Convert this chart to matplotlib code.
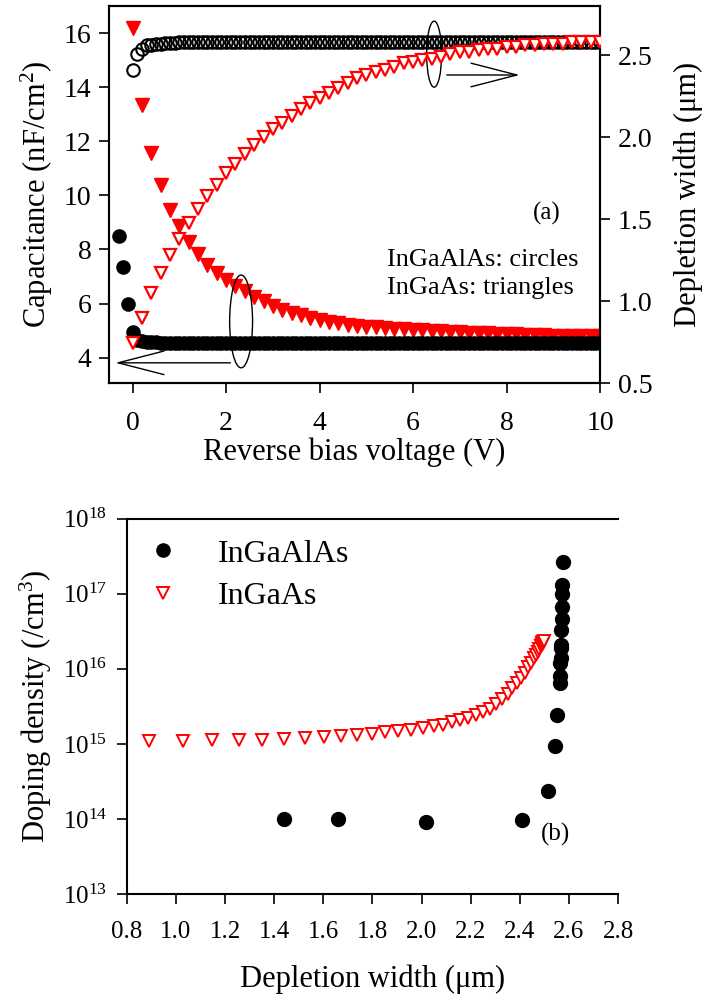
import numpy as np
import matplotlib
matplotlib.use("Agg")
import matplotlib.pyplot as plt
from matplotlib.patches import Ellipse
from matplotlib.ticker import FixedLocator, NullLocator, LogFormatterSciNotation

plt.rcParams['font.family'] = ['Liberation Serif', 'DejaVu Serif']
plt.rcParams['mathtext.fontset'] = 'custom'
plt.rcParams['mathtext.rm'] = 'Liberation Serif'
plt.rcParams['mathtext.it'] = 'Liberation Serif:italic'
plt.rcParams['mathtext.bf'] = 'Liberation Serif:bold'

# ---- panel (a) data ----
# InGaAlAs, voltage step 0.1 V
v_al_c = np.round(np.linspace(-0.3, 10.0, 104), 1)
cap_al = [8.48, 7.37, 5.99, 4.94, 4.66, 4.60, 4.58, 4.57, 4.57, 4.56,
          4.56, 4.56, 4.56, 4.56, 4.56, 4.56, 4.56, 4.56, 4.56, 4.56,
          4.56, 4.56, 4.56, 4.56, 4.56, 4.56, 4.56, 4.56, 4.56, 4.56,
          4.56, 4.56, 4.56, 4.56, 4.56, 4.56, 4.56, 4.56, 4.56, 4.56,
          4.56, 4.56, 4.56, 4.56, 4.56, 4.56, 4.56, 4.56, 4.56, 4.56,
          4.55, 4.55, 4.55, 4.55, 4.55, 4.55, 4.55, 4.55, 4.55, 4.55,
          4.55, 4.55, 4.55, 4.55, 4.55, 4.55, 4.55, 4.55, 4.55, 4.55,
          4.55, 4.55, 4.55, 4.55, 4.55, 4.55, 4.55, 4.55, 4.55, 4.55,
          4.55, 4.55, 4.55, 4.55, 4.55, 4.55, 4.55, 4.55, 4.55, 4.55,
          4.55, 4.55, 4.55, 4.55, 4.55, 4.55, 4.55, 4.55, 4.55, 4.55,
          4.55, 4.55, 4.55, 4.55]
v_al_w = np.round(np.linspace(0.0, 10.0, 101), 1)
wid_al = [2.41, 2.51, 2.54, 2.56, 2.565, 2.57, 2.57, 2.575, 2.575, 2.575,
          2.58, 2.58, 2.58, 2.58, 2.58, 2.58, 2.58, 2.58, 2.58, 2.58,
          2.58, 2.58, 2.58, 2.58, 2.58, 2.58, 2.58, 2.58, 2.58, 2.58,
          2.58, 2.58, 2.58, 2.58, 2.58, 2.58, 2.58, 2.58, 2.58, 2.58,
          2.58, 2.58, 2.58, 2.58, 2.58, 2.58, 2.58, 2.58, 2.58, 2.58,
          2.58, 2.58, 2.58, 2.58, 2.58, 2.58, 2.58, 2.58, 2.58, 2.58,
          2.58, 2.58, 2.58, 2.58, 2.58, 2.58, 2.58, 2.58, 2.58, 2.58,
          2.58, 2.58, 2.58, 2.58, 2.58, 2.58, 2.58, 2.58, 2.58, 2.58,
          2.58, 2.58, 2.58, 2.58, 2.58, 2.58, 2.58, 2.58, 2.58, 2.58,
          2.58, 2.58, 2.58, 2.58, 2.58, 2.58, 2.58, 2.58, 2.58, 2.58,
          2.58]

# InGaAs, voltage step 0.2 V
v_ga = np.round(np.linspace(0.0, 10.0, 51), 1)
cap_ga = [16.2, 13.35, 11.55, 10.39, 9.46, 8.85, 8.29, 7.84, 7.43, 7.13,
          6.88, 6.66, 6.45, 6.26, 6.08, 5.92, 5.77, 5.67, 5.56, 5.46,
          5.38, 5.32, 5.27, 5.22, 5.18, 5.15, 5.12, 5.09, 5.07, 5.05,
          5.03, 5.01, 4.99, 4.97, 4.96, 4.94, 4.93, 4.92, 4.90, 4.89,
          4.87, 4.86, 4.85, 4.84, 4.83, 4.82, 4.81, 4.81, 4.80, 4.80,
          4.79]
wid_ga = [0.745, 0.90, 1.05, 1.17, 1.28, 1.38, 1.48, 1.56, 1.64, 1.71,
          1.78, 1.84, 1.90, 1.95, 2.00, 2.05, 2.09, 2.13, 2.17, 2.21,
          2.24, 2.27, 2.30, 2.33, 2.36, 2.38, 2.40, 2.41, 2.43, 2.45,
          2.46, 2.47, 2.48, 2.49, 2.51, 2.52, 2.52, 2.53, 2.54, 2.54,
          2.55, 2.55, 2.56, 2.56, 2.57, 2.57, 2.57, 2.58, 2.58, 2.58,
          2.58]

# ---- panel (b) data ----
w_al_b = [1.44, 1.66, 2.02, 2.41, 2.515, 2.545, 2.553, 2.562, 2.563, 2.565,
          2.566, 2.567, 2.568, 2.569, 2.570, 2.571, 2.572, 2.573, 2.574]
n_al_b = [1.0e14, 1.0e14, 9.3e13, 9.6e13, 2.4e14, 9.3e14, 2.4e15, 6.5e15, 8.0e15, 1.2e16,
          1.4e16, 1.9e16, 2.1e16, 3.3e16, 4.6e16, 6.6e16, 1.0e17, 1.3e17, 2.6e17]
w_ga_b = [0.892, 1.031, 1.149, 1.257, 1.352, 1.442, 1.526, 1.601, 1.673, 1.737,
          1.798, 1.853, 1.906, 1.958, 2.004, 2.049, 2.087, 2.124, 2.158, 2.191,
          2.222, 2.250, 2.277, 2.303, 2.328, 2.350, 2.370, 2.388, 2.405, 2.420,
          2.434, 2.446, 2.457, 2.466, 2.474, 2.480, 2.485, 2.489, 2.492, 2.494,
          2.496, 2.497]
n_ga_b = [1.08e15, 1.08e15, 1.12e15, 1.12e15, 1.14e15, 1.16e15, 1.20e15, 1.24e15, 1.26e15, 1.30e15,
          1.36e15, 1.43e15, 1.47e15, 1.55e15, 1.63e15, 1.72e15, 1.81e15, 1.94e15, 2.07e15, 2.22e15,
          2.40e15, 2.63e15, 2.95e15, 3.39e15, 3.98e15, 4.68e15, 5.50e15, 6.46e15, 7.59e15, 8.91e15,
          1.05e16, 1.20e16, 1.38e16, 1.55e16, 1.70e16, 1.86e16, 2.00e16, 2.09e16, 2.19e16, 2.24e16,
          2.29e16, 2.34e16]

fig = plt.figure(figsize=(7.08, 10.01), dpi=100)

# ---------------- panel (a) ----------------
ax1 = fig.add_axes([0.1544, 0.617, 0.6931, 0.377])
ax2 = ax1.twinx()
ax1.set_zorder(ax2.get_zorder() - 1)
ax2.patch.set_visible(False)

ax1.plot(v_ga, cap_ga, 'v', color='red', ms=9.5, mec='red', zorder=2)
ax1.plot(v_al_c, cap_al, 'o', color='black', ms=9.5, zorder=3)
ax2.plot(v_al_w, wid_al, 'o', mfc='none', mec='black', ms=9, mew=1.5, zorder=3)
ax2.plot(v_ga, wid_ga, 'v', mfc='white', mec='red', ms=9, mew=1.6, zorder=4)

ax1.set_xlim(-0.5, 10.0)
ax1.set_ylim(3.05, 17.0)
ax2.set_ylim(0.5, 2.8)
ax1.set_xticks([0, 2, 4, 6, 8, 10])
ax1.set_yticks([4, 6, 8, 10, 12, 14, 16])
ax2.set_yticks([0.5, 1.0, 1.5, 2.0, 2.5])
ax2.set_yticklabels(['0.5', '1.0', '1.5', '2.0', '2.5'])

for a in (ax1, ax2):
    a.tick_params(direction='out', length=7, width=1.2, labelsize=20, pad=6)
    for s in a.spines.values():
        s.set_linewidth(1.5)
ax1.tick_params(axis='x', pad=13)

ax1.set_xlabel('Reverse bias voltage (V)', fontsize=22, labelpad=1)
ax1.set_ylabel('Capacitance (nF/cm$^{2}$)', fontsize=22, labelpad=6)
ax2.set_ylabel('Depletion width (\u03bcm)', fontsize=22, labelpad=15)

# annotations: ellipses with arrows pointing to the relevant axis
arrow_style = '->,head_length=3.3,head_width=0.85'
ax1.add_patch(Ellipse((2.32, 5.34), 0.49, 3.43, fill=False, lw=1.0, color='black', zorder=5))
ax1.annotate('', xy=(-0.37, 3.81), xytext=(2.09, 3.81),
             arrowprops=dict(arrowstyle=arrow_style, lw=1.0, color='black',
                             shrinkA=0, shrinkB=0))
ax1.add_patch(Ellipse((6.45, 15.22), 0.32, 2.44, fill=False, lw=1.0, color='black', zorder=5))
ax1.annotate('', xy=(8.28, 14.45), xytext=(6.72, 14.45),
             arrowprops=dict(arrowstyle=arrow_style, lw=1.0, color='black',
                             shrinkA=0, shrinkB=0))

ax1.text(8.86, 9.35, '(a)', fontsize=18, ha='center', va='center')
ax1.text(5.45, 7.62, 'InGaAlAs: circles', fontsize=19, ha='left', va='center')
ax1.text(5.45, 6.58, 'InGaAs: triangles', fontsize=19, ha='left', va='center')

# ---------------- panel (b) ----------------
axb = fig.add_axes([0.179, 0.1066, 0.694, 0.3754])
axb.plot(w_al_b, n_al_b, 'o', color='black', ms=10, label='InGaAlAs', zorder=3)
axb.plot(w_ga_b, n_ga_b, 'v', mfc='white', mec='red', ms=8.5, mew=1.4, label='InGaAs', zorder=2)
axb.set_yscale('log')
axb.set_xlim(0.8, 2.8)
axb.set_ylim(1e13, 1e18)
axb.set_xticks([0.8, 1.0, 1.2, 1.4, 1.6, 1.8, 2.0, 2.2, 2.4, 2.6, 2.8])
axb.set_xticklabels(['0.8', '1.0', '1.2', '1.4', '1.6', '1.8', '2.0', '2.2', '2.4', '2.6', '2.8'])
axb.yaxis.set_major_locator(FixedLocator([1e13, 1e14, 1e15, 1e16, 1e17, 1e18]))
axb.yaxis.set_major_formatter(LogFormatterSciNotation())
axb.yaxis.set_minor_locator(NullLocator())
axb.spines['right'].set_visible(False)
axb.tick_params(direction='out', length=7, width=1.2, labelsize=18)
axb.tick_params(axis='x', pad=12)
axb.tick_params(axis='y', pad=7)
for s in axb.spines.values():
    s.set_linewidth(1.5)
axb.set_xlabel('Depletion width (\u03bcm)', fontsize=22, labelpad=16)
axb.set_ylabel('Doping density (/cm$^{3}$)', fontsize=22, labelpad=6)
axb.text(2.545, 10**13.8, '(b)', fontsize=18, ha='center', va='center')
axb.legend(loc='upper left', bbox_to_anchor=(0.0, 1.0), frameon=False, fontsize=23,
           handlelength=1.0, handletextpad=1.2, labelspacing=0.42, borderpad=0.65,
           borderaxespad=0.0, markerscale=0.95)

fig.savefig('out.png', dpi=100)
